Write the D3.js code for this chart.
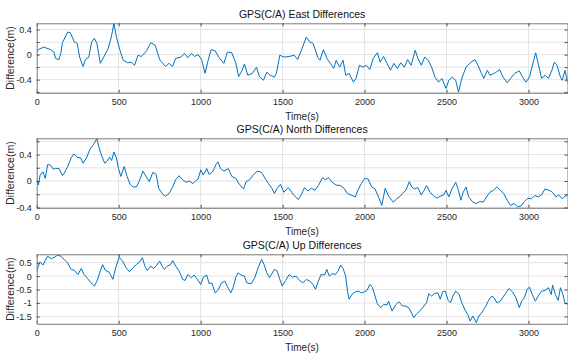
<!DOCTYPE html>
<html>
<head>
<meta charset="utf-8">
<script src="https://cdn.jsdelivr.net/npm/d3@7"></script>
<style>
  body { margin: 0; background: #fff; }
  svg { display: block; font-family: "Liberation Sans", Arial, sans-serif; }
</style>
</head>
<body>
<svg id="chart" width="568" height="356"></svg>
<script>
// time axis
const xTicks = [0, 500, 1000, 1500, 2000, 2500, 3000];
const tMax = 3238;

// East differences (m)
const eastT = [0, 10, 42, 63, 84, 105, 115, 136, 147, 157, 189, 205, 230, 247, 262, 283, 297, 318, 335, 352, 367, 388, 409, 436, 455, 471, 486, 507, 528, 555, 576, 597, 618, 639, 670, 696, 723, 750, 786, 807, 828, 848, 880, 901, 922, 943, 964, 985, 1006, 1027, 1043, 1064, 1089, 1110, 1142, 1163, 1190, 1215, 1232, 1253, 1267, 1288, 1316, 1341, 1358, 1383, 1404, 1425, 1450, 1462, 1483, 1508, 1540, 1571, 1592, 1619, 1645, 1666, 1686, 1714, 1728, 1749, 1770, 1791, 1812, 1827, 1848, 1869, 1885, 1906, 1932, 1948, 1969, 1990, 2011, 2032, 2053, 2078, 2095, 2116, 2137, 2158, 2179, 2200, 2221, 2242, 2263, 2284, 2309, 2325, 2346, 2367, 2388, 2409, 2430, 2451, 2472, 2497, 2514, 2535, 2556, 2573, 2593, 2619, 2650, 2673, 2692, 2713, 2728, 2749, 2765, 2797, 2824, 2845, 2870, 2891, 2916, 2944, 2964, 2985, 3006, 3027, 3044, 3059, 3080, 3101, 3122, 3143, 3157, 3174, 3195, 3206, 3223, 3238];
const eastV = [0.04, 0.08, 0.12, 0.10, 0.08, 0.04, -0.06, -0.08, 0.02, 0.19, 0.36, 0.35, 0.20, 0.18, -0.04, -0.19, -0.08, -0.04, 0.20, 0.26, 0.18, -0.14, -0.04, 0.10, 0.28, 0.50, 0.28, 0.08, -0.09, -0.13, -0.12, -0.17, -0.01, -0.03, 0.06, 0.19, 0.15, -0.08, -0.19, -0.14, -0.19, -0.06, -0.04, 0.02, -0.05, 0.02, -0.03, 0.00, -0.08, -0.30, -0.12, 0.08, 0.06, -0.04, -0.14, 0.04, 0.03, -0.14, -0.35, -0.25, -0.15, -0.33, -0.30, -0.20, -0.35, -0.41, -0.28, -0.33, -0.36, -0.30, -0.01, -0.04, -0.03, -0.01, -0.08, 0.10, 0.28, 0.20, 0.18, -0.04, -0.09, 0.08, -0.06, -0.14, -0.22, -0.09, -0.20, -0.09, -0.33, -0.30, -0.44, -0.38, -0.17, -0.20, -0.17, -0.24, -0.06, 0.03, -0.12, -0.03, -0.14, -0.25, -0.14, -0.22, -0.13, -0.20, -0.08, -0.17, 0.07, -0.06, -0.17, -0.04, -0.09, -0.20, -0.36, -0.44, -0.38, -0.54, -0.41, -0.36, -0.41, -0.60, -0.38, -0.20, -0.12, -0.08, -0.17, -0.30, -0.38, -0.25, -0.33, -0.29, -0.24, -0.36, -0.45, -0.38, -0.30, -0.26, -0.36, -0.44, -0.36, -0.14, 0.03, -0.14, -0.38, -0.33, -0.38, -0.25, -0.12, -0.17, -0.36, -0.41, -0.25, -0.45];

// North differences (m)
const northT = [0, 10, 21, 38, 52, 67, 84, 101, 115, 136, 157, 168, 189, 210, 226, 247, 268, 283, 304, 325, 346, 367, 381, 398, 415, 429, 444, 457, 471, 486, 499, 513, 534, 551, 570, 587, 608, 624, 649, 666, 687, 708, 729, 744, 765, 786, 807, 828, 848, 869, 890, 911, 932, 953, 968, 985, 1001, 1016, 1037, 1052, 1073, 1094, 1106, 1121, 1142, 1169, 1190, 1215, 1236, 1261, 1278, 1299, 1320, 1345, 1372, 1393, 1414, 1435, 1450, 1467, 1487, 1508, 1534, 1550, 1571, 1596, 1613, 1634, 1655, 1676, 1697, 1718, 1743, 1760, 1781, 1802, 1827, 1854, 1875, 1896, 1917, 1944, 1959, 1980, 2001, 2022, 2043, 2064, 2085, 2105, 2126, 2147, 2175, 2196, 2217, 2231, 2252, 2273, 2288, 2305, 2325, 2346, 2363, 2378, 2399, 2420, 2441, 2462, 2483, 2497, 2514, 2535, 2556, 2573, 2587, 2602, 2619, 2635, 2661, 2682, 2703, 2724, 2744, 2765, 2786, 2807, 2828, 2849, 2870, 2891, 2912, 2933, 2954, 2975, 2996, 3017, 3038, 3059, 3080, 3101, 3126, 3147, 3168, 3184, 3206, 3222, 3238];
const northV = [0.02, -0.06, 0.09, 0.14, 0.04, 0.25, 0.24, 0.18, 0.19, 0.19, 0.08, 0.12, 0.22, 0.35, 0.41, 0.36, 0.35, 0.27, 0.35, 0.48, 0.55, 0.64, 0.50, 0.37, 0.27, 0.30, 0.36, 0.31, 0.44, 0.35, 0.19, 0.07, 0.22, 0.07, -0.05, -0.09, -0.09, -0.01, 0.15, 0.07, -0.01, 0.13, 0.10, -0.11, -0.19, -0.23, -0.19, -0.10, 0.02, 0.08, 0.02, -0.02, 0.00, -0.04, 0.00, 0.03, 0.17, 0.09, 0.19, 0.10, 0.14, 0.25, 0.29, 0.19, 0.15, 0.19, 0.07, 0.04, -0.05, -0.12, -0.01, 0.02, 0.09, 0.15, 0.13, 0.04, -0.04, -0.11, -0.19, -0.11, -0.05, -0.17, -0.10, -0.15, -0.22, -0.28, -0.21, -0.10, -0.15, -0.11, -0.14, -0.07, 0.05, 0.02, 0.05, -0.02, -0.06, -0.07, -0.11, -0.19, -0.21, -0.24, -0.14, -0.04, 0.04, 0.03, -0.09, -0.12, -0.24, -0.37, -0.11, -0.23, -0.32, -0.27, -0.23, -0.19, -0.14, -0.01, -0.09, -0.12, -0.10, -0.21, -0.14, -0.07, -0.17, -0.22, -0.26, -0.23, -0.21, -0.14, -0.24, -0.11, -0.02, -0.14, -0.29, -0.17, -0.09, -0.24, -0.32, -0.34, -0.31, -0.32, -0.24, -0.17, -0.14, -0.09, -0.14, -0.19, -0.29, -0.37, -0.34, -0.39, -0.38, -0.31, -0.26, -0.27, -0.22, -0.24, -0.21, -0.12, -0.14, -0.17, -0.24, -0.21, -0.27, -0.23, -0.22];

// Up differences (m)
const upT = [0, 10, 21, 38, 52, 67, 88, 109, 126, 147, 168, 189, 210, 230, 251, 272, 289, 310, 331, 352, 367, 388, 402, 419, 440, 465, 482, 503, 524, 545, 566, 587, 608, 629, 645, 660, 675, 696, 712, 733, 750, 765, 779, 796, 817, 830, 848, 869, 890, 905, 922, 943, 960, 980, 1001, 1016, 1037, 1052, 1068, 1089, 1106, 1127, 1148, 1169, 1184, 1198, 1215, 1228, 1247, 1267, 1282, 1309, 1330, 1351, 1372, 1387, 1404, 1420, 1435, 1450, 1467, 1483, 1498, 1519, 1540, 1561, 1582, 1603, 1624, 1645, 1666, 1686, 1701, 1718, 1735, 1756, 1770, 1785, 1802, 1823, 1839, 1854, 1869, 1885, 1896, 1906, 1923, 1944, 1965, 1980, 2001, 2015, 2032, 2049, 2064, 2078, 2099, 2116, 2137, 2147, 2168, 2189, 2210, 2231, 2252, 2273, 2300, 2315, 2336, 2357, 2378, 2392, 2409, 2426, 2447, 2462, 2476, 2493, 2510, 2524, 2539, 2556, 2577, 2593, 2614, 2629, 2644, 2661, 2682, 2698, 2719, 2740, 2754, 2776, 2790, 2807, 2828, 2849, 2881, 2902, 2923, 2944, 2958, 2975, 2992, 3006, 3023, 3042, 3059, 3080, 3101, 3122, 3139, 3147, 3164, 3181, 3195, 3210, 3222, 3238];
const upV = [0.19, 0.37, 0.53, 0.41, 0.58, 0.74, 0.65, 0.70, 0.78, 0.74, 0.62, 0.49, 0.25, 0.21, 0.06, 0.28, 0.06, -0.09, -0.25, -0.37, -0.19, 0.19, 0.43, 0.21, 0.16, -0.12, 0.31, 0.70, 0.56, 0.31, 0.16, 0.31, 0.43, 0.53, 0.68, 0.37, 0.21, 0.37, 0.28, 0.41, 0.56, 0.37, 0.25, 0.37, 0.43, 0.58, 0.37, 0.19, -0.12, -0.16, 0.06, -0.06, 0.04, -0.12, -0.31, -0.04, 0.04, -0.28, -0.25, -0.62, -0.53, -0.25, -0.19, -0.46, -0.62, -0.43, -0.04, 0.12, 0.04, 0.00, -0.25, -0.28, -0.06, 0.31, 0.62, 0.43, 0.12, -0.06, 0.09, 0.25, 0.19, -0.12, -0.37, -0.16, 0.06, -0.04, 0.00, -0.16, -0.25, -0.12, -0.19, -0.31, -0.49, -0.19, 0.06, 0.04, 0.25, 0.00, 0.09, 0.06, 0.19, 0.41, 0.28, 0.00, -0.56, -0.86, -0.68, -0.58, -0.56, -0.62, -0.58, -0.53, -0.31, -0.43, -0.74, -1.02, -1.17, -1.05, -1.07, -0.93, -1.30, -1.07, -0.95, -1.11, -1.11, -1.20, -1.54, -1.42, -1.30, -1.15, -0.99, -0.65, -0.74, -0.65, -0.62, -0.86, -0.58, -0.56, -0.90, -0.99, -0.74, -0.56, -0.68, -0.99, -1.27, -1.42, -1.67, -1.48, -1.73, -1.48, -1.32, -1.11, -0.93, -0.74, -0.80, -0.99, -0.93, -0.74, -0.46, -0.58, -0.80, -1.17, -0.93, -0.80, -0.49, -0.41, -0.68, -0.93, -0.74, -0.56, -0.53, -0.43, -0.68, -0.33, -0.68, -0.90, -0.43, -0.68, -0.99, -1.05];

const titles = ["GPS(C/A) East Differences", "GPS(C/A) North Differences", "GPS(C/A) Up Differences"];
const yDomains = [[-0.61, 0.5], [-0.405, 0.646], [-1.77, 0.81]];
const yGrid = [[-0.6, -0.4, -0.2, 0, 0.2, 0.4], [-0.4, -0.2, 0, 0.2, 0.4, 0.6], [-1.5, -1, -0.5, 0, 0.5]];
const yLabels = [[-0.4, 0, 0.4], [-0.4, 0, 0.4], [-1.5, -1, -0.5, 0, 0.5]];

const svg = d3.select("#chart");
const left = 36.7, right = 567.5;
const tops = [23.3, 138.3, 254.3];
const h = 69.5;
const lineColor = "#0072bd";
const gridColor = "#dcdcdc";
const axisColor = "#262626";

const x = d3.scaleLinear().domain([0, tMax]).range([left, right]);
const series = [[eastT, eastV], [northT, northV], [upT, upV]];

series.forEach((s, i) => {
  const top = tops[i], bottom = top + h;
  const y = d3.scaleLinear().domain(yDomains[i]).range([bottom, top]);
  const g = svg.append("g");

  g.append("clipPath").attr("id", "clip" + i)
    .append("rect").attr("x", left).attr("y", top).attr("width", right - left).attr("height", h);

  // grid
  g.selectAll(".gy").data(yGrid[i]).enter().append("line")
    .attr("x1", left).attr("x2", right)
    .attr("y1", d => y(d)).attr("y2", d => y(d))
    .attr("stroke", gridColor).attr("stroke-width", 0.8);
  g.selectAll(".gx").data(xTicks.slice(1)).enter().append("line")
    .attr("x1", d => x(d)).attr("x2", d => x(d))
    .attr("y1", top).attr("y2", bottom)
    .attr("stroke", gridColor).attr("stroke-width", 0.8);

  // data line
  const pts = s[0].map((t, k) => [t, s[1][k]]);
  g.append("path").datum(pts)
    .attr("clip-path", "url(#clip" + i + ")")
    .attr("fill", "none")
    .attr("stroke", lineColor)
    .attr("stroke-width", 1)
    .attr("stroke-linejoin", "round")
    .attr("d", d3.line().x(d => x(d[0])).y(d => y(d[1])));

  // axes: inward ticks on all four sides
  const bx = g.append("g").attr("transform", `translate(0,${bottom})`)
    .call(d3.axisBottom(x).tickValues(xTicks).tickSizeInner(-3).tickSizeOuter(0).tickPadding(8)
      .tickFormat(d3.format("d")));
  const tx = g.append("g").attr("transform", `translate(0,${top})`)
    .call(d3.axisTop(x).tickValues(xTicks).tickSizeInner(-3).tickSizeOuter(0).tickFormat(""));
  const ly = g.append("g").attr("transform", `translate(${left},0)`)
    .call(d3.axisLeft(y).tickValues(yGrid[i]).tickSizeInner(-3).tickSizeOuter(0).tickPadding(5)
      .tickFormat(d => yLabels[i].includes(d) ? String(d) : ""));
  const ry = g.append("g").attr("transform", `translate(${right},0)`)
    .call(d3.axisRight(y).tickValues(yGrid[i]).tickSizeInner(-3).tickSizeOuter(0).tickFormat(""));

  [bx, tx, ly, ry].forEach(a => {
    a.select(".domain").attr("stroke", "#7a7a7a").attr("stroke-width", 1);
    a.selectAll(".tick line").attr("stroke", axisColor).attr("stroke-width", 0.8);
    a.selectAll(".tick text").attr("fill", axisColor).style("font-size", "9px");
  });
  bx.selectAll(".tick text").attr("dy", "0.5em");

  // labels
  g.append("text").attr("x", (left + right) / 2).attr("y", top - 5)
    .attr("text-anchor", "middle").attr("fill", "#111").style("font-size", "10.5px")
    .text(titles[i]);
  g.append("text").attr("x", (left + right) / 2).attr("y", bottom + 27)
    .attr("text-anchor", "middle").attr("fill", axisColor).style("font-size", "10px")
    .text("Time(s)");
  g.append("text")
    .attr("transform", `translate(14,${(top + bottom) / 2}) rotate(-90)`)
    .attr("text-anchor", "middle").attr("fill", axisColor).style("font-size", "10.5px")
    .text("Difference(m)");
});
</script>
</body>
</html>
